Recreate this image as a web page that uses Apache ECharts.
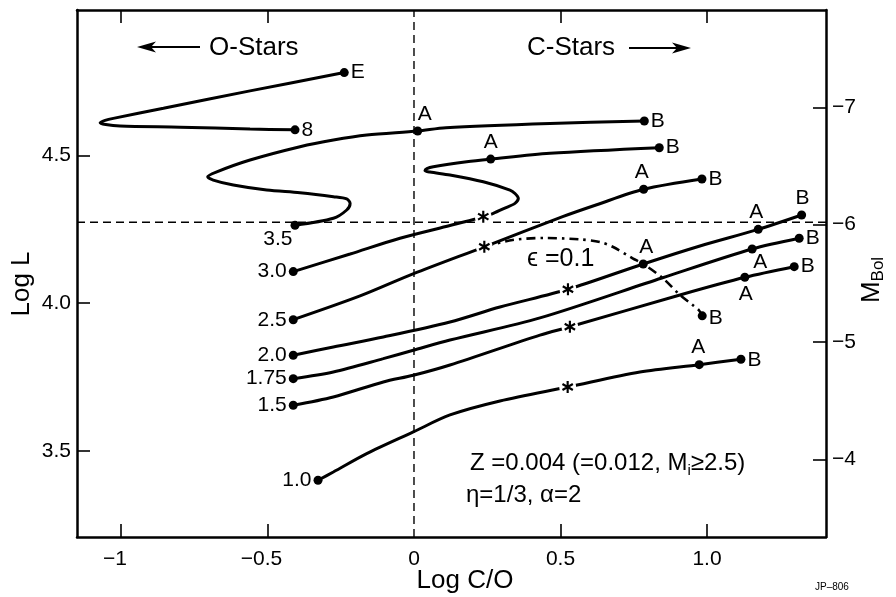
<!DOCTYPE html>
<html><head><meta charset="utf-8">
<script src="https://cdn.jsdelivr.net/npm/echarts@6/dist/echarts.min.js"></script>
<style>html,body{margin:0;padding:0;background:#fff}#c{width:896px;height:597px}</style>
</head><body><div id="c"></div>
<script>
// ---------- data ----------
const xRange = [-1.15, 1.406];          // Log C/O
const yRange = [3.208, 4.993];          // Log L
const mRange = [-7.829, -3.338];        // M_Bol (right axis, inverted)
const xTickValues = [-1, -0.5, 0.5, 1];
const xLabelValues = [-1, -0.5, 0, 0.5, 1];
const yTickValues = [3.5, 4.0, 4.5];
const mTickValues = [-7, -6, -5, -4];
const logLRef = 4.274;                  // horizontal dashed reference
const coRef = 0;                        // vertical dashed reference (C/O = 1)

const track8  = [[-0.406,4.587],[-0.5595,4.590],[-0.798,4.596],[-1.003,4.600],[-1.052,4.605],[-1.071,4.611],[-1.054,4.619],[-1.026,4.626],[-0.855,4.660],[-0.5595,4.719],[-0.238,4.781]];
const track35 = [[-0.406,4.264],[-0.275,4.2875],[-0.2296,4.3156],[-0.218,4.338],[-0.2296,4.353],[-0.275,4.3607],[-0.389,4.374],[-0.5026,4.383],[-0.6165,4.400],[-0.685,4.417],[-0.704,4.428],[-0.673,4.445],[-0.5595,4.485],[-0.389,4.530],[-0.275,4.5527],[-0.161,4.5696],[0.0126,4.583],[0.109,4.594],[0.464,4.6085],[0.786,4.617]];
const track30 = [[-0.412,4.107],[-0.218,4.1666],[-0.0478,4.220],[0.1228,4.263],[0.197,4.2817],[0.2364,4.293],[0.2706,4.3044],[0.31,4.322],[0.3446,4.338],[0.356,4.355],[0.3446,4.3715],[0.3275,4.383],[0.2364,4.411],[0.1228,4.434],[0.0546,4.444],[0.0375,4.4487],[0.044,4.4555],[0.066,4.462],[0.1798,4.479],[0.2617,4.488],[0.464,4.5076],[0.837,4.5266]];
const track25 = [[-0.412,3.944],[-0.184,4.0244],[-0.0034,4.099],[0.240,4.191],[0.5073,4.293],[0.621,4.3325],[0.7837,4.3857],[0.9826,4.4206]];
const trackEps = [[0.240,4.191],[0.3367,4.214],[0.447,4.2208],[0.563,4.2164],[0.6346,4.207],[0.678,4.191],[0.746,4.152],[0.7823,4.1327],[0.8485,4.0853],[0.9075,4.0278],[0.951,3.994],[0.9724,3.976],[0.9836,3.957]];
const track20 = [[-0.412,3.8236],[-0.2753,3.8517],[-0.1047,3.8855],[0.1228,3.9363],[0.2934,3.987],[0.5254,4.047],[0.7823,4.1327],[0.9758,4.1937],[1.1747,4.250],[1.3228,4.2987]];
const track175 = [[-0.412,3.7443],[-0.2753,3.767],[-0.1047,3.812],[-0.0024,3.8405],[0.1228,3.875],[0.4299,3.95],[0.846,4.0853],[1.154,4.1835],[1.3145,4.2198]];
const track15 = [[-0.412,3.6542],[-0.2753,3.6824],[-0.1047,3.7331],[-0.0024,3.7558],[0.1228,3.7907],[0.4299,3.892],[0.532,3.920],[0.9075,4.0278],[1.129,4.0877],[1.2975,4.1236]];
const track10 = [[-0.3275,3.4003],[-0.2753,3.428],[-0.1614,3.4903],[-0.0024,3.5638],[0.1228,3.6214],[0.2934,3.6688],[0.5244,3.716],[0.771,3.767],[0.9734,3.7917],[1.1157,3.81]];

// labelled end / phase points: [x, y, text]
const points = [
  [-0.406,4.587,'8'],[-0.238,4.781,'E'],
  [-0.406,4.264,'3.5'],[0.0126,4.583,'A'],[0.786,4.617,'B'],
  [-0.412,4.107,'3.0'],[0.2617,4.488,'A'],[0.837,4.5266,'B'],
  [-0.412,3.944,'2.5'],[0.7837,4.3857,'A'],[0.9826,4.4206,'B'],
  [0.7823,4.1327,'A'],[0.9836,3.957,'B'],
  [-0.412,3.8236,'2.0'],[1.1747,4.250,'A'],[1.3228,4.2987,'B'],
  [-0.412,3.7443,'1.75'],[1.154,4.1835,'A'],[1.3145,4.2198,'B'],
  [-0.412,3.6542,'1.5'],[1.129,4.0877,'A'],[1.2975,4.1236,'B'],
  [-0.3275,3.4003,'1.0'],[0.9734,3.7917,'A'],[1.1157,3.81,'B']
];
// onset of carbon-star phase (asterisks)
const stars = [[0.2364,4.293],[0.240,4.191],[0.5254,4.047],[0.532,3.920],[0.5244,3.716]];

// ---------- styling / layout ----------
const FONT = 'Liberation Sans';
const INK = '#000';
// label placement for each point above (same order)
const placement = [
  ['right',[0,0]],['right',[0,0]],
  ['left',[4,14]],['top',[7,0]],['right',[0,0]],
  ['left',[0,0]],['top',[0,0]],['right',[0,0]],
  ['left',[0,0]],['top',[-2,0]],['right',[0,0]],
  ['top',[3,0]],['right',[0,2]],
  ['left',[0,0]],['top',[-2,0]],['top',[1,0]],
  ['left',[0,0]],['bottom',[8,-4]],['right',[0,0]],
  ['left',[0,0]],['bottom',[1,0]],['right',[0,0]],
  ['left',[0,0]],['top',[-1,0]],['right',[0,1]]
];

const chart = echarts.init(document.getElementById('c'));
const lineBase = {type:'line', symbol:'none', smooth:0.3, silent:true, z:2, xAxisIndex:0, yAxisIndex:0};
const tracks = [track8, track35, track30, track25, track20, track175, track15, track10];
const series = tracks.map(d => Object.assign({}, lineBase, {data:d, lineStyle:{color:INK, width:3, opacity:1}}));
series.push(Object.assign({}, lineBase, {data:trackEps, lineStyle:{color:INK, width:2.6, opacity:1, type:[9,5,2.5,5]}}));
series.push(Object.assign({}, lineBase, {smooth:false, z:1, data:[[coRef,yRange[0]],[coRef,yRange[1]]], lineStyle:{color:INK, width:1.4, type:[8,5]}}));
series.push(Object.assign({}, lineBase, {smooth:false, z:1, data:[[xRange[0],logLRef],[xRange[1],logLRef]], lineStyle:{color:INK, width:1.4, type:[8,5]}}));
// white gap behind asterisks
series.push({type:'scatter', silent:true, z:3, data:stars, symbol:'circle', symbolSize:17, itemStyle:{color:'#fff', opacity:1}});
series.push({type:'scatter', silent:true, z:4, data:stars, symbolKeepAspect:true,
  symbol:'path://M-0.09 -0.5L0.09 -0.5L0.09 0.5L-0.09 0.5ZM0.388 -0.328L0.478 -0.172L-0.388 0.328L-0.478 0.172ZM-0.478 -0.172L-0.388 -0.328L0.478 0.172L0.388 0.328Z',
  symbolSize:12, itemStyle:{color:INK, opacity:1}});
series.push({type:'scatter', silent:true, z:5, symbol:'circle', symbolSize:9, itemStyle:{color:INK, opacity:1},
  data: points.map((p,i) => ({value:[p[0],p[1]], label:{show:true, formatter:p[2], position:placement[i][0], distance:2, offset:placement[i][1], color:INK, opacity:1, fontFamily:FONT, fontSize:21}}))});
series.push({type:'scatter', xAxisIndex:1, yAxisIndex:1, data:[]});

const axisLine = {show:true, onZero:false, lineStyle:{color:INK, width:2.5}};
const tick = vals => ({show:true, inside:true, length:13, customValues:vals, lineStyle:{color:INK, width:1.6}});
const lab = {color:INK, fontFamily:FONT, fontSize:21};

chart.setOption({
  animation:false,
  backgroundColor:'#fff',
  grid:{left:77, right:70, top:10, bottom:60, outerBoundsMode:'none'},
  xAxis:[
    {type:'value', position:'bottom', min:xRange[0], max:xRange[1], axisLine, splitLine:{show:false},
     axisTick:tick(xTickValues),
     axisLabel:Object.assign({}, lab, {margin:12, customValues:xLabelValues,
       formatter: v => v < 0 ? '−' + Math.abs(v) + '{p|}' : (v === 1 ? '1.0' : String(v)),
       rich:{p:{width:12}}})},
    {type:'value', position:'top', min:xRange[0], max:xRange[1], axisLine, splitLine:{show:false},
     axisTick:tick(xTickValues), axisLabel:{show:false}}
  ],
  yAxis:[
    {type:'value', position:'left', min:yRange[0], max:yRange[1], axisLine, splitLine:{show:false},
     axisTick:tick(yTickValues),
     axisLabel:Object.assign({}, lab, {margin:6, customValues:yTickValues, formatter: v => v.toFixed(1)})},
    {type:'value', position:'right', inverse:true, min:mRange[0], max:mRange[1], axisLine, splitLine:{show:false},
     axisTick:tick(mTickValues),
     axisLabel:Object.assign({}, lab, {margin:6, customValues:mTickValues, formatter: v => '−' + Math.abs(v)})}
  ],
  series,
  graphic:[
    {type:'line', shape:{x1:150,y1:47,x2:200,y2:47}, style:{stroke:INK, lineWidth:2}},
    {type:'polygon', shape:{points:[[137,47],[156,41.5],[151,47],[156,52.5]]}, style:{fill:INK}},
    {type:'text', x:209, y:48, style:{text:'O-Stars', fontFamily:FONT, fontSize:26, fill:INK, verticalAlign:'middle'}},
    {type:'text', x:527, y:48, style:{text:'C-Stars', fontFamily:FONT, fontSize:26, fill:INK, verticalAlign:'middle'}},
    {type:'line', shape:{x1:629,y1:48,x2:678,y2:48}, style:{stroke:INK, lineWidth:2}},
    {type:'polygon', shape:{points:[[691,48],[672,42.5],[677,48],[672,53.5]]}, style:{fill:INK}},
    {type:'text', x:527, y:259, style:{text:'ϵ =0.1', fontFamily:FONT, fontSize:25, fill:INK, verticalAlign:'middle'}},
    {type:'text', x:470, y:463, style:{text:'Z =0.004 (=0.012, M{s|i}≥2.5)', fontFamily:FONT, fontSize:24, lineHeight:30, fill:INK, verticalAlign:'middle',
      rich:{s:{fontFamily:FONT, fontSize:15, lineHeight:12, verticalAlign:'bottom', fill:INK}}}},
    {type:'text', x:466, y:495, style:{text:'η=1/3, α=2', fontFamily:FONT, fontSize:24, fill:INK, verticalAlign:'middle'}},
    {type:'text', x:465, y:581, style:{text:'Log C/O', fontFamily:FONT, fontSize:26, fill:INK, align:'center', verticalAlign:'middle'}},
    {type:'text', x:22, y:284, rotation:Math.PI/2, style:{text:'Log L', fontFamily:FONT, fontSize:26, fill:INK, align:'center', verticalAlign:'middle'}},
    {type:'text', x:872, y:280, rotation:Math.PI/2, style:{text:'M{b|Bol}', fontFamily:FONT, fontSize:26, lineHeight:30, fill:INK, align:'center', verticalAlign:'middle',
      rich:{b:{fontFamily:FONT, fontSize:17, lineHeight:12, verticalAlign:'bottom', fill:INK}}}},
    {type:'text', x:815, y:587, style:{text:'JP–806', fontFamily:FONT, fontSize:10, fill:INK, verticalAlign:'middle'}}
  ]
});
</script>
</body></html>
